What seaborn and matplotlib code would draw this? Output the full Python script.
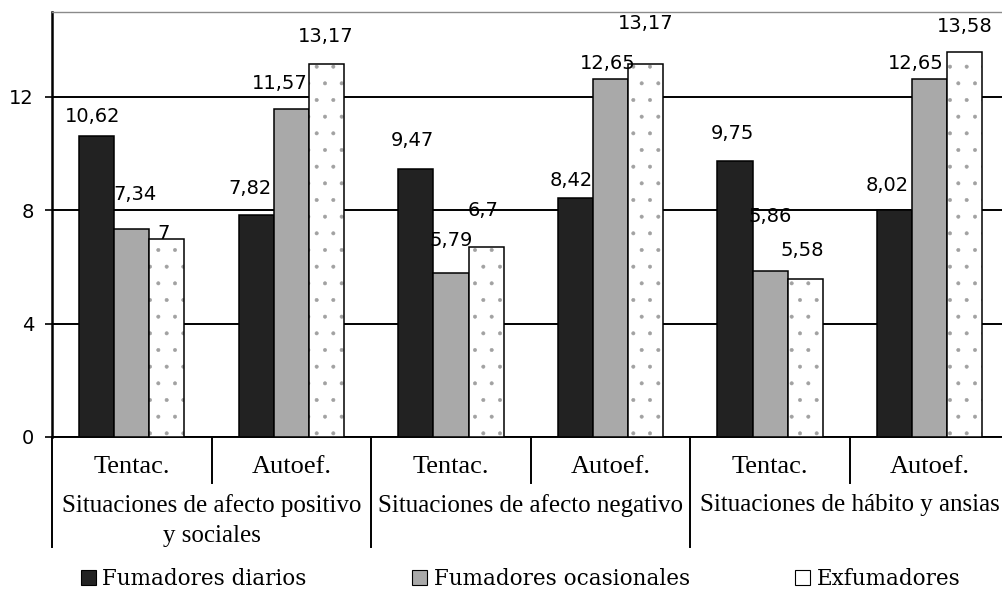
import pandas as pd
import matplotlib
matplotlib.use("Agg")
import matplotlib.pyplot as plt
import seaborn as sns
from matplotlib.patches import Patch
from matplotlib.transforms import blended_transform_factory

# data
situaciones = ["Situaciones de afecto positivo\ny sociales",
               "Situaciones de afecto negativo",
               "Situaciones de hábito y ansias"]
subescalas = ["Tentac.", "Autoef."]
grupos = ["Fumadores diarios", "Fumadores ocasionales", "Exfumadores"]

diarios = [10.62, 7.82, 9.47, 8.42, 9.75, 8.02]
ocasionales = [7.34, 11.57, 5.79, 12.65, 5.86, 12.65]
exfumadores = [7, 13.17, 6.7, 13.17, 5.58, 13.58]
yticks = [0, 4, 8, 12]

# hand placed label offsets (pixels from bar top centre), like the original
label_offsets = [
    [(-4, 20), (-6, 27), (-3, 28), (-4, 18), (-3, 27), (-7, 24)],
    [(3, 35), (-12, 26), (0, 32), (-3, 15), (0, 54), (-14, 15)],
    [(-3, 5), (-1, 27), (-3, 37), (0, 40), (-3, 28), (0, 26)],
]

colores = ["#222222", "#a9a9a9", "#ffffff"]

plt.rcParams["hatch.linewidth"] = 0.4

# long table for seaborn
items = [f"{s}|{t}" for s in situaciones for t in subescalas]
rows = []
for grupo, vals in zip(grupos, [diarios, ocasionales, exfumadores]):
    for item, v in zip(items, vals):
        rows.append({"item": item, "grupo": grupo, "valor": v})
df = pd.DataFrame(rows)

fig = plt.figure(figsize=(10.03, 5.91), dpi=100)
ax = fig.add_axes([52 / 1003, 154 / 591, 957.5 / 1003, 425 / 591])

sns.barplot(data=df, x="item", y="valor", hue="grupo", order=items,
            hue_order=grupos, palette=colores, width=0.66, legend=False,
            saturation=1, ax=ax, zorder=3)

for i, cont in enumerate(ax.containers):
    for p in cont.patches:
        p.set_edgecolor("black")
        p.set_linewidth(1.1)
        p.set_facecolor(colores[i])
        if i == 2:
            p.set_hatch(".")
            if hasattr(p, "set_hatchcolor"):
                p.set_hatchcolor("#a0a0a0")
            else:
                p._hatch_color = (0.63, 0.63, 0.63, 1)

# value labels with comma decimals
for i, cont in enumerate(ax.containers):
    for j, p in enumerate(cont.patches):
        dx, dy = label_offsets[i][j]
        txt = f"{p.get_height():g}".replace(".", ",")
        ax.annotate(txt, (p.get_x() + p.get_width() / 2, p.get_height()),
                    xytext=(dx, dy), textcoords="offset pixels",
                    ha="center", va="center", fontsize=14,
                    family="DejaVu Sans", zorder=5)

ax.set_xlim(-0.5, 5.5)
ax.set_ylim(0, 15)
ax.set_yticks(yticks)
ax.set_yticklabels([str(t) for t in yticks], fontsize=14, family="DejaVu Sans")
ax.yaxis.grid(True, color="black", linewidth=1.4, zorder=0)
ax.set_axisbelow(True)
ax.tick_params(axis="y", direction="out", length=5, width=1.2, pad=8)
ax.tick_params(axis="x", length=0, pad=14)
ax.set_xticks(range(len(items)))
ax.set_xticklabels([t for s in situaciones for t in subescalas],
                   fontsize=19, family="Liberation Serif")
ax.set_xlabel("")
ax.set_ylabel("")

ax.spines["right"].set_visible(False)
ax.spines["top"].set_color("#8a8a8a")
ax.spines["top"].set_linewidth(1.0)
ax.spines["left"].set_linewidth(1.8)
ax.spines["bottom"].set_linewidth(1.4)

# hierarchical axis: separators and group labels
trans = blended_transform_factory(ax.transData, ax.transAxes)
for x in [0.5, 2.5, 4.5]:
    ax.plot([x, x], [0, -0.108], transform=trans, clip_on=False,
            color="black", lw=1.4)
for x in [-0.5, 1.5, 3.5, 5.5]:
    ax.plot([x, x], [0, -0.258], transform=trans, clip_on=False,
            color="black", lw=1.4)
for k, s in enumerate(situaciones):
    ax.text(2 * k + 0.5, -0.134, s, transform=trans, ha="center", va="top",
            fontsize=18, family="Liberation Serif", linespacing=1.45)

handles = [Patch(facecolor=c, edgecolor="black", linewidth=0.8) for c in colores]
fig.legend(handles, grupos, loc="center", bbox_to_anchor=(0.519, 0.021),
           ncol=3, frameon=False, prop={"family": "DejaVu Serif", "size": 15.5},
           handlelength=0.7, handleheight=0.7, handletextpad=0.3,
           columnspacing=4.9, borderpad=0)

fig.savefig("out.png", dpi=100)
